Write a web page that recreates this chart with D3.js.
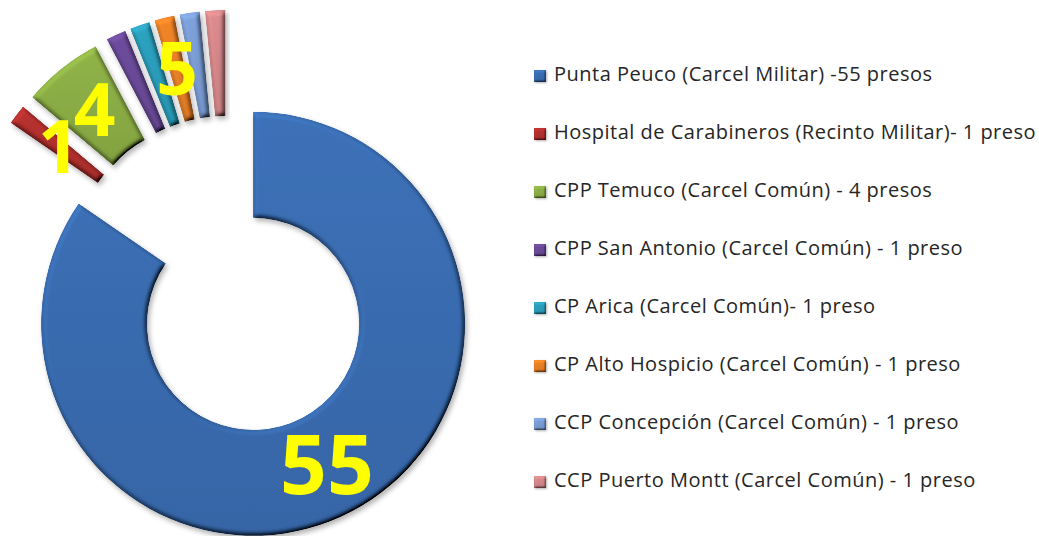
<!DOCTYPE html>
<html><head><meta charset="utf-8">
<script src="https://cdn.jsdelivr.net/npm/d3@7"></script>
<style>body{margin:0;background:#fff;} svg{display:block}</style>
</head><body>
<svg id="chart" width="1039" height="536"></svg>
<script>
// ---- data ----
const categories = [
  "Punta Peuco (Carcel Militar) -55 presos",
  "Hospital de Carabineros (Recinto Militar)- 1 preso",
  "CPP Temuco (Carcel Común) - 4 presos",
  "CPP San Antonio (Carcel Común) - 1 preso",
  "CP Arica (Carcel Común)- 1 preso",
  "CP Alto Hospicio (Carcel Común) - 1 preso",
  "CCP Concepción (Carcel Común) - 1 preso",
  "CCP Puerto Montt (Carcel Común) - 1 preso"
];
const values = [55, 1, 4, 1, 1, 1, 1, 1];
const dataLabels = ["55", "1", "4", "", "", "5", "", ""];

// ---- style ----
const palette = ["#3a6db2", "#b3302e", "#8cae45", "#6a4a98", "#2b9ebb", "#ea8127", "#7b9dd5", "#d5878a"];
const cx = 228, cy = 276, rIn = 106, rOut = 212, explode = 54;

const svg = d3.select("#chart");
const defs = svg.append("defs");

function makeBevel(id, blur, scale, shadow) {
  const f = defs.append("filter").attr("id", id)
    .attr("x", "-20%").attr("y", "-20%").attr("width", "140%").attr("height", "140%");
  f.append("feGaussianBlur").attr("in", "SourceAlpha").attr("stdDeviation", blur).attr("result", "blur");
  const dl = f.append("feDiffuseLighting").attr("in", "blur").attr("surfaceScale", scale)
    .attr("diffuseConstant", 1).attr("lighting-color", "#ffffff").attr("result", "diff");
  dl.append("feDistantLight").attr("azimuth", 235).attr("elevation", 55);
  f.append("feComposite").attr("in", "SourceGraphic").attr("in2", "diff").attr("operator", "arithmetic")
    .attr("k1", 1.22).attr("k2", 0).attr("k3", 0).attr("k4", 0).attr("result", "lit0");
  f.append("feComposite").attr("in", "lit0").attr("in2", "SourceAlpha").attr("operator", "in").attr("result", "lit");
  f.append("feOffset").attr("in", "SourceAlpha").attr("dx", shadow).attr("dy", shadow * 1.4).attr("result", "off");
  f.append("feGaussianBlur").attr("in", "off").attr("stdDeviation", shadow * 1.2).attr("result", "sh");
  f.append("feFlood").attr("flood-color", "#000").attr("flood-opacity", 0.3).attr("result", "fl");
  f.append("feComposite").attr("in", "fl").attr("in2", "sh").attr("operator", "in").attr("result", "shadow");
  const mg = f.append("feMerge");
  mg.append("feMergeNode").attr("in", "shadow");
  mg.append("feMergeNode").attr("in", "lit");
}
makeBevel("bevel", 2.5, 5, 2);
makeBevel("bevelSmall", 1, 2, 0.8);

palette.forEach((c, i) => {
  const g = defs.append("linearGradient").attr("id", "grad" + i)
    .attr("x1", 0).attr("y1", 0).attr("x2", 0).attr("y2", 1);
  g.append("stop").attr("offset", "0%").attr("stop-color", d3.color(c).brighter(0.1));
  g.append("stop").attr("offset", "100%").attr("stop-color", d3.color(c).darker(0.2));
});

const pie = d3.pie().sort(null).value(d => d)(values);
const arc = d3.arc().innerRadius(rIn).outerRadius(rOut);

function offset(d) {
  const a = (d.startAngle + d.endAngle) / 2;
  return [cx + explode * Math.sin(a), cy - explode * Math.cos(a)];
}

const slices = svg.append("g").selectAll("g").data(pie).join("g")
  .attr("transform", d => `translate(${offset(d)})`);
slices.append("path")
  .attr("d", arc)
  .attr("fill", (d, i) => `url(#grad${i})`)
  .attr("filter", "url(#bevel)");

// data labels
svg.append("g").selectAll("text").data(pie).join("text")
  .attr("transform", d => {
    const o = offset(d), c = arc.centroid(d);
    return `translate(${o[0] + c[0]},${o[1] + c[1]})`;
  })
  .attr("text-anchor", "middle")
  .attr("dy", "0.36em")
  .attr("font-family", "'Open Sans', Lato, sans-serif")
  .attr("font-weight", "bold")
  .attr("font-size", (d, i) => i === 0 ? 82 : 73)
  .attr("fill", "#ffff00")
  .text((d, i) => dataLabels[i]);

// legend
const legend = svg.append("g").selectAll("g").data(categories).join("g")
  .attr("transform", (d, i) => `translate(534,${70 + i * 58})`);
legend.append("rect")
  .attr("width", 12).attr("height", 12)
  .attr("fill", (d, i) => `url(#grad${i})`)
  .attr("filter", "url(#bevelSmall)");
legend.append("text")
  .attr("x", 20).attr("y", 11)
  .attr("font-family", "'Open Sans', Lato, sans-serif")
  .attr("font-size", 20)
  .attr("letter-spacing", 0.5)
  .attr("fill", "#262626")
  .text(d => d);
</script>
</body></html>
